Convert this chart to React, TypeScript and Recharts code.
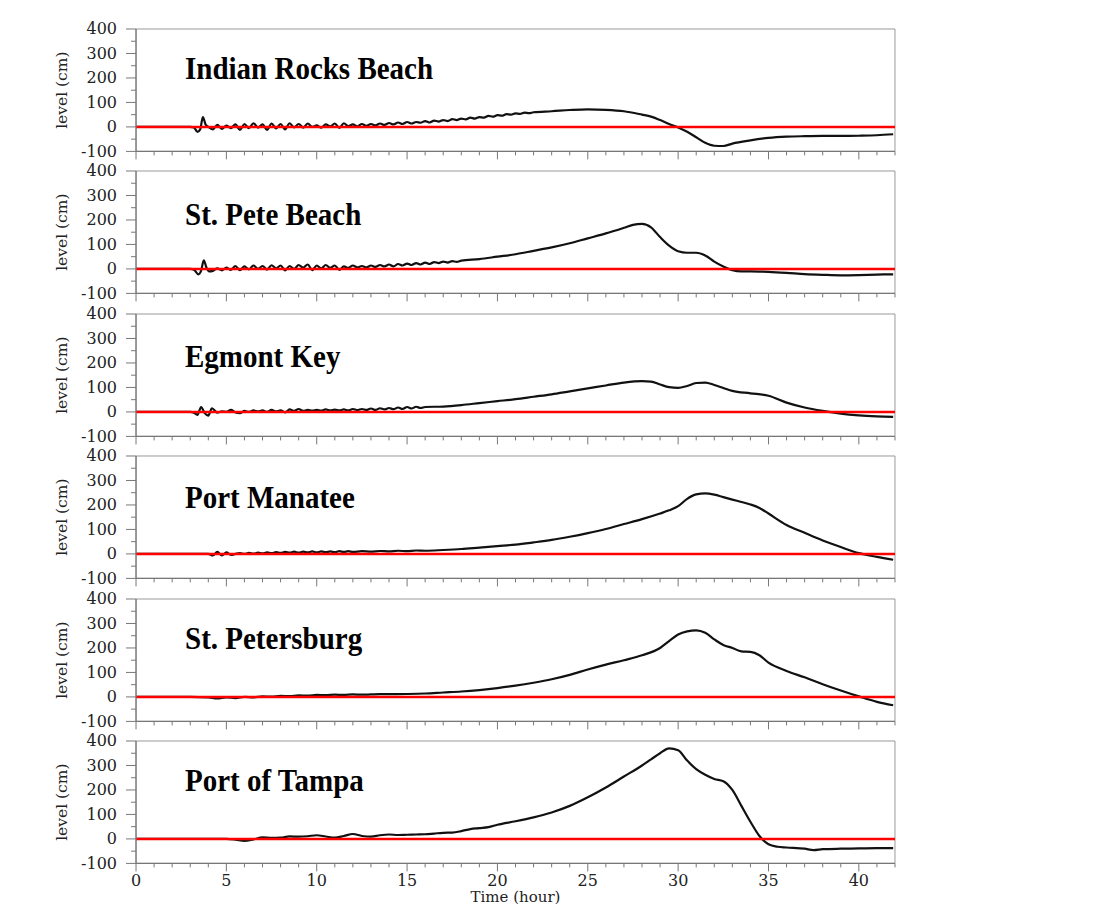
import React from 'react';
import { LineChart, Line, XAxis, YAxis, ReferenceLine, ReferenceArea } from 'recharts';

// tick positions
const X_TICKS = [0, 1, 2, 3, 4, 5, 6, 7, 8, 9, 10, 11, 12, 13, 14, 15, 16, 17, 18, 19, 20, 21, 22, 23, 24, 25, 26, 27, 28, 29, 30, 31, 32, 33, 34, 35, 36, 37, 38, 39, 40, 41, 42];
const X_LABELS = [0, 5, 10, 15, 20, 25, 30, 35, 40];
const Y_TICKS = [-100, -50, 0, 50, 100, 150, 200, 250, 300, 350, 400];
const Y_LABELS = [-100, 0, 100, 200, 300, 400];

// Indian Rocks Beach
const irbTime = [0, 1, 2, 3, 3.2, 3.4, 3.55, 3.7, 3.85,
  4, 4.25, 4.5, 4.75, 5, 5.25, 5.5, 5.75, 6, 6.25, 6.5, 6.75, 7, 7.25, 7.5, 7.75, 8, 8.25, 8.5, 8.75, 9, 9.25, 9.5, 9.75,
  10, 10.25, 10.5, 10.75, 11, 11.25, 11.5, 11.75, 12, 12.25, 12.5, 12.75, 13, 13.25, 13.5, 13.75, 14, 14.25, 14.5, 14.75,
  15, 15.25, 15.5, 15.75, 16, 16.25, 16.5, 16.75, 17, 17.25, 17.5, 17.75, 18, 18.25, 18.5, 18.75, 19, 19.25, 19.5, 19.75,
  20, 20.25, 20.5, 20.75, 21, 21.25, 21.5, 21.75, 22,
  23, 24, 25, 26, 27, 28, 28.5, 29, 29.5, 30, 30.5, 31, 31.5, 32, 32.5, 33, 34, 35, 36, 37, 38, 39, 40, 41, 41.9];
const irbLevel = [0, 0, 0, 0, -2, -20, -10, 40, 10,
  0, -10, 8, -8, 5, -5, 10, -12, 12, -5, 15, -3, 10, -12, 14, -6, 12, -10, 15, -2, 12, -3, 14, 0,
  6, -3, 10, 2, 14, -4, 15, 3, 10, 2, 12, 4, 12, 6, 14, 8, 16, 10, 18, 12,
  20, 14, 20, 17, 24, 18, 26, 22, 28, 24, 32, 28, 34, 31, 38, 34, 40, 38, 45, 42,
  48, 46, 52, 50, 55, 53, 58, 56, 60,
  64, 69, 72, 70, 64, 50, 42, 28, 12, -2, -20, -42, -65, -77, -78, -68, -55, -45, -40, -38, -37, -37, -36, -34, -30];

// St. Pete Beach
const spbTime = [0, 1, 2, 3, 3.2, 3.45, 3.6, 3.75, 3.9, 4.05,
  4.25, 4.5, 4.75, 5, 5.25, 5.5, 5.75, 6, 6.25, 6.5, 6.75, 7, 7.25, 7.5, 7.75, 8, 8.25, 8.5, 8.75, 9, 9.25, 9.5, 9.75,
  10, 10.25, 10.5, 10.75, 11, 11.25, 11.5, 11.75, 12, 12.25, 12.5, 12.75, 13, 13.25, 13.5, 13.75, 14, 14.25, 14.5, 14.75,
  15, 15.25, 15.5, 15.75, 16, 16.25, 16.5, 16.75, 17, 17.25, 17.5, 17.75, 18,
  19, 20, 21, 22, 23, 24, 25, 26, 27, 27.5, 28, 28.5, 29, 29.5, 30, 30.5, 31, 31.5, 32, 32.5, 33, 33.5, 34, 35, 36, 37, 38, 39, 40, 41, 41.9];
const spbLevel = [0, 0, 0, 0, -3, -22, -8, 35, 5, -10,
  -8, 2, -6, 5, -4, 12, -5, 10, -2, 14, 0, 12, -3, 15, 2, 14, -6, 12, 0, 16, 5, 18, -5,
  14, 2, 16, 4, 14, -4, 10, 4, 14, 6, 12, 6, 14, 8, 16, 10, 18, 10, 20, 14,
  22, 16, 24, 18, 26, 20, 28, 24, 30, 26, 32, 29, 34,
  40, 50, 60, 74, 88, 105, 125, 145, 168, 180, 184, 170, 130, 95, 72, 66, 66, 55, 30, 10, -5, -10, -10, -12, -16, -21, -24, -26, -25, -23, -22];

// Egmont Key
const ekTime = [0, 1, 2, 3, 3.2, 3.4, 3.6, 3.8, 4, 4.2,
  4.5, 4.75, 5, 5.25, 5.5, 5.75, 6, 6.25, 6.5, 6.75, 7, 7.25, 7.5, 7.75, 8, 8.25, 8.5, 8.75, 9, 9.25, 9.5, 9.75,
  10, 10.25, 10.5, 10.75, 11, 11.25, 11.5, 11.75, 12, 12.25, 12.5, 12.75, 13, 13.25, 13.5, 13.75, 14, 14.25, 14.5, 14.75,
  15, 15.25, 15.5, 15.75, 16,
  17, 18, 19, 20, 21, 22, 23, 24, 25, 26, 27, 28, 28.5, 29, 29.5, 30, 30.5, 31, 31.5, 32, 32.5, 33, 34, 35, 36, 37, 38, 39, 40, 41, 41.9];
const ekLevel = [0, 0, 0, 0, -3, -12, 20, -5, -15, 15,
  -3, 2, 0, 8, -2, -5, 4, 0, 6, 2, 6, 0, 8, 2, 6, -2, 10, 4, 12, 4, 8, 5,
  8, 5, 10, 6, 9, 6, 10, 6, 12, 7, 12, 8, 14, 8, 15, 10, 16, 11, 18, 12,
  20, 14, 21, 16, 20,
  22, 28, 36, 44, 52, 62, 72, 84, 96, 108, 120, 126, 124, 112, 101, 98, 106, 118, 120, 110, 98, 86, 76, 66, 38, 18, 4, -7, -14, -18, -20];

// Port Manatee
const pmTime = [0, 1, 2, 3, 3.75,
  4, 4.25, 4.5, 4.75, 5, 5.25, 5.5, 5.75, 6, 6.25, 6.5, 6.75, 7, 7.25, 7.5, 7.75, 8, 8.25, 8.5, 8.75, 9, 9.25, 9.5, 9.75,
  10, 10.25, 10.5, 10.75, 11, 11.25, 11.5, 11.75, 12,
  12.5, 13, 13.5, 14, 14.5, 15, 15.5, 16,
  17, 18, 19, 20, 21, 22, 23, 24, 25, 26, 27, 28, 29, 29.5, 30, 30.5, 31, 31.5, 32, 32.5, 33, 33.5, 34, 34.5, 35, 36, 37, 38, 39, 40, 41, 41.9];
const pmLevel = [0, 0, 0, 0, 0,
  0, -6, 8, -6, 6, -4, 0, 3, 0, 4, 1, 5, 2, 6, 3, 7, 4, 8, 5, 9, 5, 9, 6, 10,
  6, 10, 7, 10, 7, 11, 8, 11, 8,
  11, 9, 12, 10, 13, 11, 14, 13,
  16, 20, 26, 32, 38, 47, 57, 70, 85, 102, 122, 142, 165, 178, 195, 225, 243, 247, 242, 232, 222, 212, 202, 188, 165, 118, 86, 55, 28, 3, -12, -24];

// St. Petersburg
const spTime = [0, 1, 2, 3, 4, 4.5, 5, 5.5, 6, 6.5, 7, 7.5, 8, 8.5, 9, 9.5, 10, 10.5, 11, 11.5, 12, 12.5, 13, 13.5, 14,
  15, 16, 17, 18, 19, 20, 21, 22, 23, 24, 25, 26, 27, 28, 29,
  29.5, 30, 30.5, 31, 31.5, 32, 32.5, 33, 33.5, 34, 34.5, 35, 36, 37, 38, 39, 40, 41, 41.9];
const spLevel = [0, 0, 0, 0, -2, -6, -2, -5, 0, -2, 2, 1, 4, 3, 6, 5, 8, 7, 9, 8, 10, 9, 10, 11, 11,
  12, 14, 18, 22, 28, 36, 46, 58, 72, 90, 112, 132, 150, 170, 200,
  228, 255, 268, 272, 262, 235, 212, 200, 186, 184, 170, 140, 106, 80, 52, 26, 2, -20, -34];

// Port of Tampa
const ptTime = [0, 1, 2, 3, 4, 5, 5.5, 6, 6.5, 7, 7.5, 8, 8.5, 9, 9.5, 10, 10.5, 11, 11.5, 12, 12.5, 13, 13.5, 14, 14.5,
  15, 15.5, 16, 16.5, 17, 17.5, 18, 18.5, 19, 19.5, 20, 21, 22, 23, 24, 25, 26, 27, 28,
  28.5, 29, 29.5, 30, 30.5, 31, 31.5, 32, 32.5, 33, 33.5, 34, 34.5, 35, 35.5, 36, 37, 37.5, 38, 39, 40, 41, 41.9];
const ptLevel = [0, 0, 0, 0, 0, 0, -3, -8, -2, 6, 4, 5, 10, 9, 11, 15, 10, 5, 12, 20, 12, 9, 15, 18, 16,
  17, 18, 19, 22, 25, 26, 32, 40, 44, 48, 58, 72, 88, 108, 135, 170, 210, 255, 300,
  325, 350, 370, 362, 320, 285, 262, 245, 236, 200, 135, 70, 12, -22, -32, -35, -40, -46, -42, -40, -39, -38, -38];

const stations = [
  { name: 'Indian Rocks Beach', time: irbTime, level: irbLevel, dy: 50 },
  { name: 'St. Pete Beach', time: spbTime, level: spbLevel, dy: 54 },
  { name: 'Egmont Key', time: ekTime, level: ekLevel, dy: 53 },
  { name: 'Port Manatee', time: pmTime, level: pmLevel, dy: 52 },
  { name: 'St. Petersburg', time: spTime, level: spLevel, dy: 50 },
  { name: 'Port of Tampa', time: ptTime, level: ptLevel, dy: 50 },
];

const W = 1095;
const PLOT_LEFT = 136;
const PLOT_RIGHT = 895;
const FIRST_TOP = 28.7;
const STEP = 142.5;
const PLOT_H = 122.4;
const MT = 10;
const AXIS = '#777';
const TICK_FONT = '"DejaVu Serif", serif';
const NAME_FONT = '"Liberation Serif", "Times New Roman", serif';

const YTick = (props: any) => {
  const { y, payload } = props;
  const v = payload.value;
  const major = Y_LABELS.includes(v);
  return (
    <g>
      <line x1={PLOT_LEFT - (major ? 10 : 5)} x2={PLOT_LEFT} y1={y} y2={y} stroke={AXIS} strokeWidth={1} />
      {major && (
        <text x={117} y={y} dy={5.5} textAnchor="end" fontSize={16} fill="#222" fontFamily={TICK_FONT}>
          {v}
        </text>
      )}
    </g>
  );
};

const XTick = (props: any) => {
  const { x, payload, showLabel } = props;
  const v = payload.value;
  const major = X_LABELS.includes(v);
  const axisY = MT + PLOT_H;
  return (
    <g>
      <line x1={x} x2={x} y1={axisY} y2={axisY + (major ? 8 : 4)} stroke={AXIS} strokeWidth={1} />
      {showLabel && major && (
        <text x={x} y={axisY + 23} textAnchor="middle" fontSize={16} fill="#222" fontFamily={TICK_FONT}>
          {v}
        </text>
      )}
    </g>
  );
};

const Panel = ({ st, index, last }: { st: any; index: number; last: boolean }) => {
  const data = st.time.map((t: number, i: number) => ({ t, v: st.level[i] }));
  const xh = last ? 70 : 14;
  const h = MT + PLOT_H + xh;
  const top = FIRST_TOP + index * STEP - MT;
  const axisY = MT + PLOT_H;
  return (
    <div style={{ position: 'absolute', left: 0, top, width: W, height: h }}>
      <LineChart width={W} height={h} data={data} margin={{ top: MT, right: W - PLOT_RIGHT, bottom: 0, left: 0 }}>
        <ReferenceArea x1={0} x2={42} y1={-100} y2={400} fill="none" stroke="#9a9a9a" strokeWidth={1} />
        <XAxis
          type="number"
          dataKey="t"
          domain={[0, 42]}
          ticks={X_TICKS}
          interval={0}
          height={xh}
          tickLine={false}
          axisLine={{ stroke: AXIS, strokeWidth: 1.2 }}
          tick={(p: any) => <XTick {...p} showLabel={last} />}
          allowDataOverflow
        />
        <YAxis
          type="number"
          domain={[-100, 400]}
          ticks={Y_TICKS}
          interval={0}
          width={PLOT_LEFT}
          tickLine={false}
          axisLine={{ stroke: AXIS, strokeWidth: 1.2 }}
          tick={(p: any) => <YTick {...p} />}
          allowDataOverflow
        />
        <Line
          type="monotone"
          dataKey="v"
          stroke="#111"
          strokeWidth={2.2}
          dot={false}
          isAnimationActive={false}
        />
        <ReferenceLine y={0} stroke="#ff0000" strokeWidth={2.5} />
        <text
          transform={`translate(185, ${MT + st.dy}) scale(1, 1.1)`}
          fontSize={29}
          fontWeight="bold"
          fill="#000"
          fontFamily={NAME_FONT}
        >
          {st.name}
        </text>
        <text
          transform={`translate(67, ${MT + PLOT_H / 2}) rotate(-90)`}
          textAnchor="middle"
          fontSize={15.5}
          fill="#222"
          fontFamily={TICK_FONT}
        >
          level (cm)
        </text>
        {last && (
          <text x={(PLOT_LEFT + PLOT_RIGHT) / 2} y={axisY + 39} textAnchor="middle" fontSize={15} fill="#222" fontFamily={TICK_FONT}>
            Time (hour)
          </text>
        )}
      </LineChart>
    </div>
  );
};

export default function App() {
  return (
    <div style={{ position: 'absolute', left: 0, top: 0, width: W, height: 908, overflow: 'hidden', background: '#fff' }}>
      {stations.map((st, i) => (
        <Panel key={st.name} st={st} index={i} last={i === stations.length - 1} />
      ))}
    </div>
  );
}
